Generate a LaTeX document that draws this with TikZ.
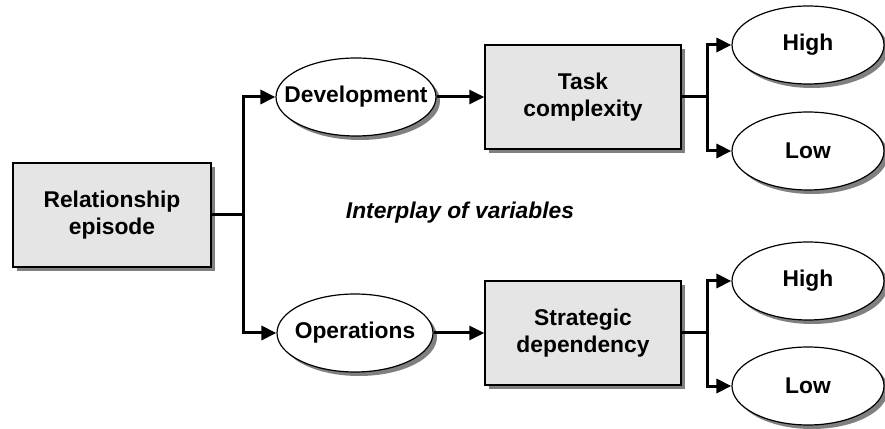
\documentclass[tikz,border=0pt]{standalone}
\usepackage{fontspec}
\setmainfont{Liberation Sans}
\usepackage{xcolor}
\usetikzlibrary{positioning,calc,shadows,arrows.meta,shapes.geometric}

\tikzset{
  hop/.style={line width=3pt},
  hoparr/.style={line width=3pt,-{Triangle[length=15pt,width=14pt]}},
  shade4/.style={drop shadow={shadow xshift=4pt,shadow yshift=-4pt,fill=black!50,opacity=1}},
  varbox/.style={draw,line width=1.5pt,fill=black!10,shade4,
    minimum width=196pt,minimum height=104pt,align=center},
  oval/.style={ellipse,draw,line width=1.2pt,fill=white,shade4,
    inner sep=0pt,minimum width=152pt,minimum height=78pt},
}

\begin{document}
\begin{tikzpicture}[x=1pt,y=1pt,font=\fontsize{22.8}{27}\selectfont\bfseries]
  \useasboundingbox (0,0) rectangle (885,428);

  % start box
  \node[varbox,minimum width=198pt] (rel) at (112,213) {Relationship\\episode};

  % the two paths
  \node[oval,minimum width=160pt,label=center:Development] (dev) at (356,331) {};
  \node[oval,minimum width=156pt,label=center:Operations] (ops) at (355,95) {};

  % variables
  \node[varbox] (task) at (583,331) {Task\\complexity};
  \node[varbox] (strat) at (583,95) {Strategic\\dependency};

  \node (play) at (460,215) {\itshape Interplay of variables};

  % levels
  \foreach \nm/\y/\txt in {hiA/383/High, loA/277/Low, hiB/147/High, loB/42/Low} {
    \node[oval,label=center:\txt] (\nm) at (808,\y) {};
  }

  % branch points
  \coordinate (jL) at (243,213);
  \coordinate (jA) at (707,331);
  \coordinate (jB) at (707,95);

  \draw[hop] (rel.east) -- (jL);
  \draw[hoparr] (jL) |- (dev.west);
  \draw[hoparr] (jL) |- (ops.west);
  \draw[hoparr] (dev.east) -- (task.west);
  \draw[hoparr] (ops.east) -- (strat.west);

  \draw[hop] (task.east) -- (jA);
  \draw[hoparr] (jA) |- (hiA.west);
  \draw[hoparr] (jA) |- (loA.west);
  \draw[hop] (strat.east) -- (jB);
  \draw[hoparr] (jB) |- (hiB.west);
  \draw[hoparr] (jB) |- (loB.west);
\end{tikzpicture}
\end{document}
